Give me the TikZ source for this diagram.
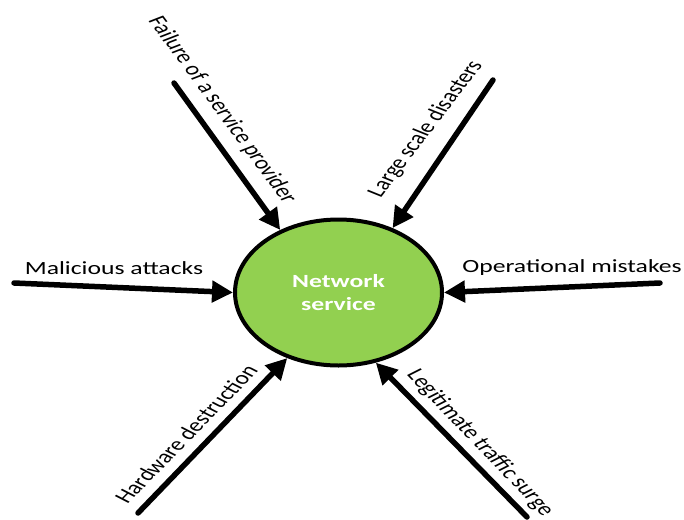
\documentclass[tikz,border=0pt]{standalone}
\usepackage{fontspec}
\setmainfont{Carlito}
\usetikzlibrary{shapes.geometric,arrows.meta}
\definecolor{ngreen}{HTML}{92D050}
\begin{document}
\begin{tikzpicture}[x=1pt,y=-1pt,
  arr/.style={line width=5.5pt,line cap=round,-{Triangle[length=21pt,width=21pt]}},
  lbl/.style={font=\fontsize{18.6}{22}\selectfont,xscale=1.38,transform shape,inner sep=0pt},
  svc/.style={ellipse,draw,line width=4pt,fill=ngreen,minimum width=207pt,minimum height=146pt,inner sep=0pt},
  svctext/.style={text=white,align=center,font=\bfseries\fontsize{18.6}{23}\selectfont,xscale=1.38,transform shape,inner sep=0pt}]
\useasboundingbox (0,0) rectangle (684,519);
\node[svc] (ns) at (338.5,292.5) {};
\node[svctext] (nt) at (ns.center) {Network\\service};
% start points
\coordinate (sm) at (14,283);
\coordinate (so) at (660,283);
\coordinate (sf) at (174,83);
\coordinate (sl) at (493,80);
\coordinate (sh) at (138,513);
\coordinate (sg) at (527,517);
% label positions
\coordinate (pm) at (114,268);
\coordinate (po) at (572,268);
\coordinate (pf) at (222,110);
\coordinate (pl) at (426,129);
\coordinate (ph) at (186,434);
\coordinate (pg) at (480,443);
% arrows
\draw[arr] (sm) -- (ns.180);
\draw[arr] (so) -- (ns.0);
\draw[arr] (sf) -- (ns.133);
\draw[arr] (sl) -- (ns.50);
\draw[arr] (sh) -- (ns.232);
\draw[arr] (sg) -- (ns.298);
% labels
\node[lbl] (lm) at (pm) {Malicious attacks};
\node[lbl] (lo) at (po) {Operational mistakes};
\node[lbl,rotate=-61.8] (lf) at (pf) {Failure of a service provider};
\node[lbl,rotate=60.9] (ll) at (pl) {Large scale disasters};
\node[lbl,rotate=54.6] (lh) at (ph) {Hardware destruction};
\node[lbl,rotate=-55] (lg) at (pg) {Legitimate traffic surge};
\end{tikzpicture}
\end{document}
